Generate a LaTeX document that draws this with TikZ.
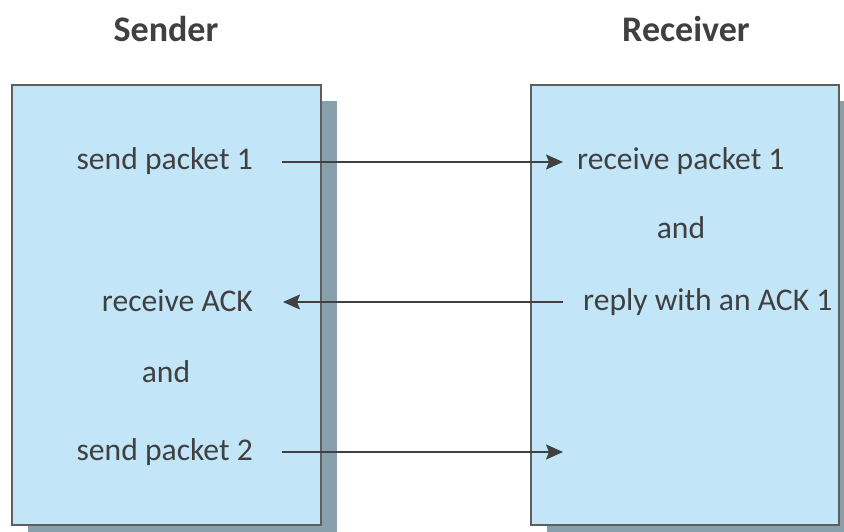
\documentclass[tikz,border=0pt]{standalone}
\usepackage{fontspec}
\setmainfont{Carlito}
\usetikzlibrary{arrows.meta,shadows}
\definecolor{boxblue}{HTML}{C2E6F8}
\definecolor{shadowgrey}{HTML}{88A0AB}
\definecolor{edgegrey}{HTML}{5E5E5E}
\definecolor{inkgrey}{HTML}{404040}
\tikzset{
  hostbox/.style={draw=edgegrey, line width=1.5pt, fill=boxblue, inner sep=0pt,
    minimum height=440pt,
    drop shadow={shadow xshift=16pt, shadow yshift=-16pt, opacity=1, fill=shadowgrey}},
  title/.style={text=inkgrey, inner sep=0pt, anchor=base, font=\fontsize{36}{40}\selectfont\bfseries},
  step label/.style={text=inkgrey, inner sep=0pt, font=\fontsize{31.6}{36}\selectfont},
  msg/.style={draw=inkgrey, line width=1.5pt, -{Stealth[length=17pt, width=15pt, inset=3pt]}}
}
\begin{document}
\begin{tikzpicture}[x=1pt, y=-1pt]
  \useasboundingbox (0,0) rectangle (844,532);
  \node [hostbox, minimum width=309pt] (sender) at (166.5,305) {};
  \node [hostbox, minimum width=308pt] (receiver) at (685,305) {};
  \node [title] (sendertitle) at (166,42) {Sender};
  \node [title] (receivertitle) at (686,42) {Receiver};

  \node [step label, anchor=base east] (send1) at (253,170) {send packet 1};
  \node [step label, anchor=base east] (recvack) at (253,311) {receive ACK};
  \node [step label, anchor=base] (andleft) at (166,382) {and};
  \node [step label, anchor=base east] (send2) at (253,460) {send packet 2};
  \node [step label, anchor=base west] (recv1) at (577,170) {receive packet 1};
  \node [step label, anchor=base] (andright) at (681,238) {and};
  \node [step label, anchor=base west] (reply) at (583,310) {reply with an ACK 1};

  \coordinate (send1out) at (282,162);
  \coordinate (recv1in) at (563,162);
  \coordinate (replyout) at (563,302);
  \coordinate (recvackin) at (283,302);
  \coordinate (send2out) at (282,452);
  \coordinate (recv2in) at (563,452);
  \draw [msg] (send1out) -- (recv1in);
  \draw [msg] (replyout) -- (recvackin);
  \draw [msg] (send2out) -- (recv2in);
\end{tikzpicture}
\end{document}
